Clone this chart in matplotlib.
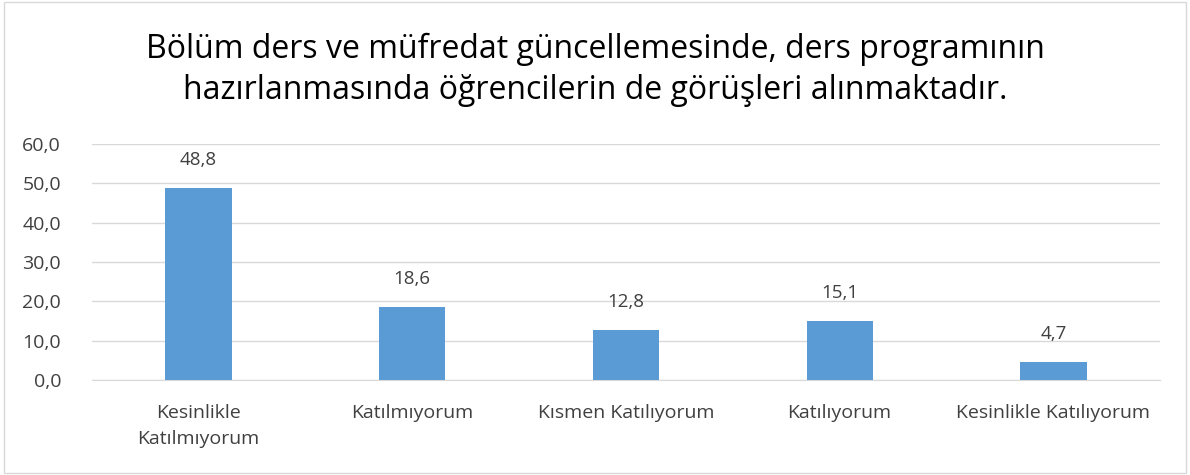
import matplotlib.pyplot as plt
import numpy as np

plt.rcParams['font.family'] = ['Open Sans', 'DejaVu Sans']

categories = ['Kesinlikle\nKatılmıyorum', 'Katılmıyorum', 'Kısmen Katılıyorum',
              'Katılıyorum', 'Kesinlikle Katılıyorum']
values = [48.8, 18.6, 12.8, 15.1, 4.7]
title = ('Bölüm ders ve müfredat güncellemesinde, ders programının\n'
         'hazırlanmasında öğrencilerin de görüşleri alınmaktadır.')

fig = plt.figure(figsize=(11.9, 4.75), dpi=100)
ax = fig.add_axes([0.077, 0.2, 0.898, 0.497])

x = np.arange(len(categories))
bars = ax.bar(x, values, width=0.31, color='#5B9BD5', zorder=3)

for b, v in zip(bars, values):
    ax.text(b.get_x() + b.get_width() / 2, v + 4.8, f'{v:.1f}'.replace('.', ','),
            ha='center', va='bottom', fontsize=13.5, color='#404040')

ax.set_ylim(0, 60)
ax.set_xlim(-0.5, len(categories) - 0.5)
ax.set_yticks(np.arange(0, 61, 10))
ax.set_yticklabels([f'{t:.1f}'.replace('.', ',') for t in np.arange(0, 61, 10)])
ax.set_xticks(x)
ax.set_xticklabels(categories, linespacing=1.6)
ax.tick_params(axis='both', length=0, labelsize=14, labelcolor='#404040')
ax.tick_params(axis='x', pad=17)
ax.tick_params(axis='y', pad=22)
ax.grid(axis='y', color='#D9D9D9', linewidth=1, zorder=0)
for s in ['top', 'right', 'left']:
    ax.spines[s].set_visible(False)
ax.spines['bottom'].set_color('#D9D9D9')

fig.text(0.5, 0.853, title, ha='center', va='center', fontsize=23,
         color='#000000', linespacing=1.3)

fig.patches.append(plt.Rectangle((0.003, 0.005), 0.994, 0.99, transform=fig.transFigure,
                                 fill=False, edgecolor='#D9D9D9', linewidth=1))

fig.savefig('out.png', dpi=100)
